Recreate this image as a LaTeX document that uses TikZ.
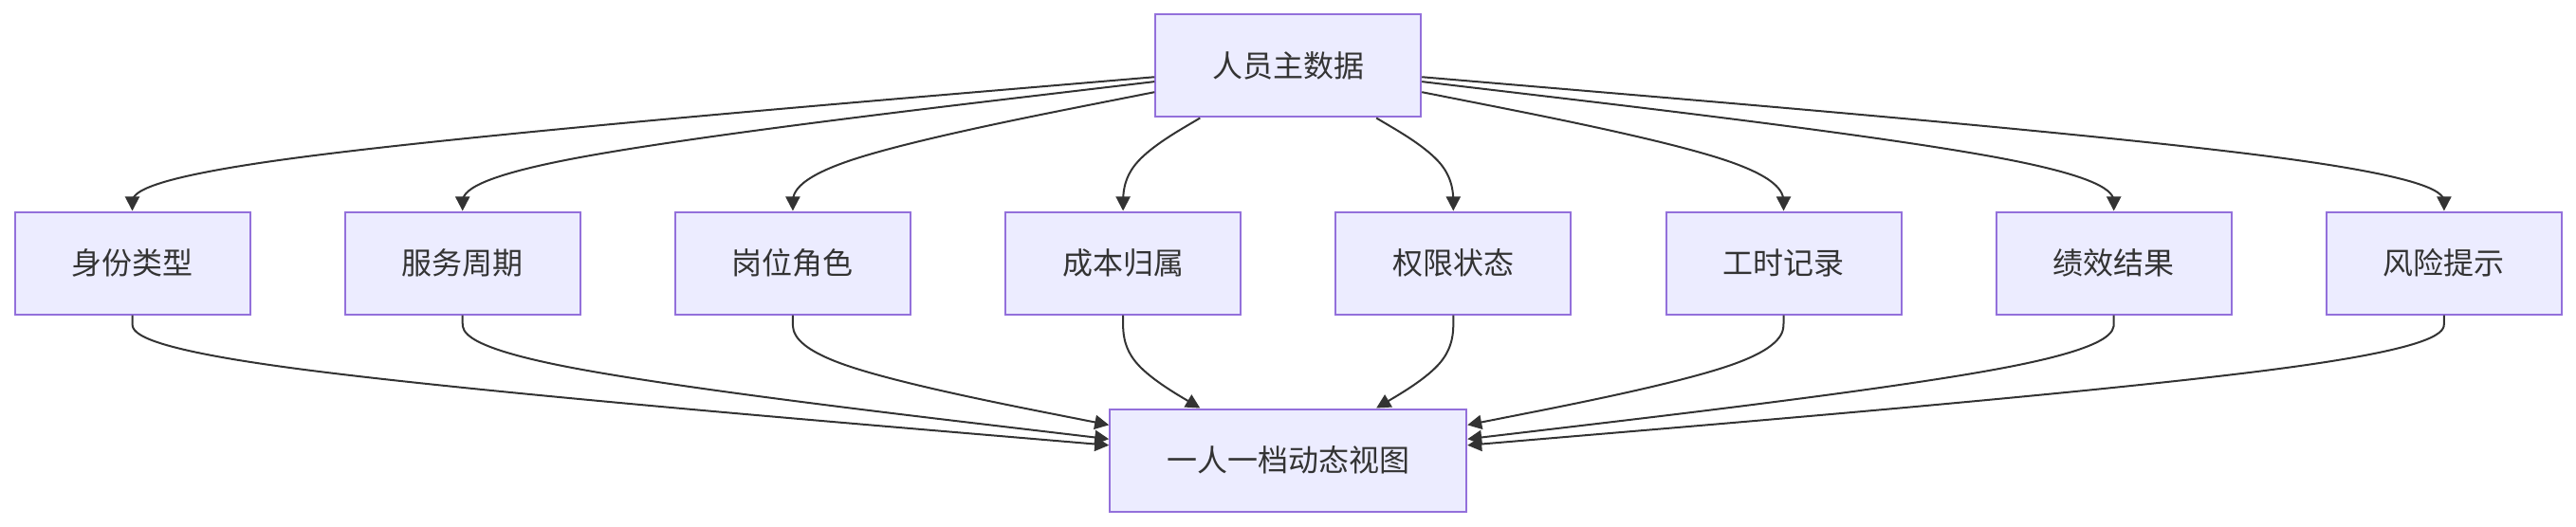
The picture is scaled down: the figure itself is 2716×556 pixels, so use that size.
\documentclass[tikz,border=0pt]{standalone}
\usepackage{fontspec}
\newfontfamily\cjk{Noto Sans CJK SC}
\usetikzlibrary{calc,arrows.meta}
\definecolor{nodefill}{HTML}{ECECFF}
\definecolor{nodeborder}{HTML}{9370DB}
\definecolor{edgecol}{HTML}{333333}
\definecolor{textcol}{HTML}{333333}
\newcommand{\basisedge}[3]{%
  \draw[edge] (#1) -- ($0.833333*(#1)+0.166667*(#2)$)
    .. controls ($0.666667*(#1)+0.333333*(#2)$) and ($0.333333*(#1)+0.666667*(#2)$)
    .. ($0.166667*(#1)+0.666667*(#2)+0.166667*(#3)$)
    .. controls ($0.666667*(#2)+0.333333*(#3)$) and ($0.333333*(#2)+0.666667*(#3)$)
    .. ($0.166667*(#2)+0.833333*(#3)$) -- (#3);}
\begin{document}
\begin{tikzpicture}[x=1pt,y=-1pt,
  box/.style={draw=nodeborder, fill=nodefill, line width=2pt, minimum height=108pt,
    inner sep=0pt, text=textcol, font=\cjk\fontsize{32}{38}\selectfont},
  edge/.style={draw=edgecol, line width=2pt, -{Triangle[length=15pt,width=15pt]}}]
\useasboundingbox (0,0) rectangle (2716,556);
\node[box, minimum width=280pt] (top) at (1358.2,69.5) {人员主数据};
\node[box, minimum width=376pt] (bot) at (1358.2,485.5) {一人一档动态视图};
\foreach \i/\lab in {1/身份类型,2/服务周期,3/岗位角色,4/成本归属,5/权限状态,6/工时记录,7/绩效结果,8/风险提示}{
  \node[box, minimum width=248pt] (n\i) at ({139.5+348.2*(\i-1)},277.5) {\lab};
}
\foreach \i in {1,...,8}{
  \coordinate (dt\i) at ($(n\i.north)+(0,-50)$);
  \coordinate (db\i) at ($(n\i.south)+(0,50)$);
  \path (top) -- (dt\i) coordinate[pos=0] (s\i);
  \path (db\i) -- (bot) coordinate[pos=1] (e\i);
  \basisedge{s\i}{dt\i}{n\i.north}
  \basisedge{n\i.south}{db\i}{e\i}
}
\end{tikzpicture}
\end{document}
